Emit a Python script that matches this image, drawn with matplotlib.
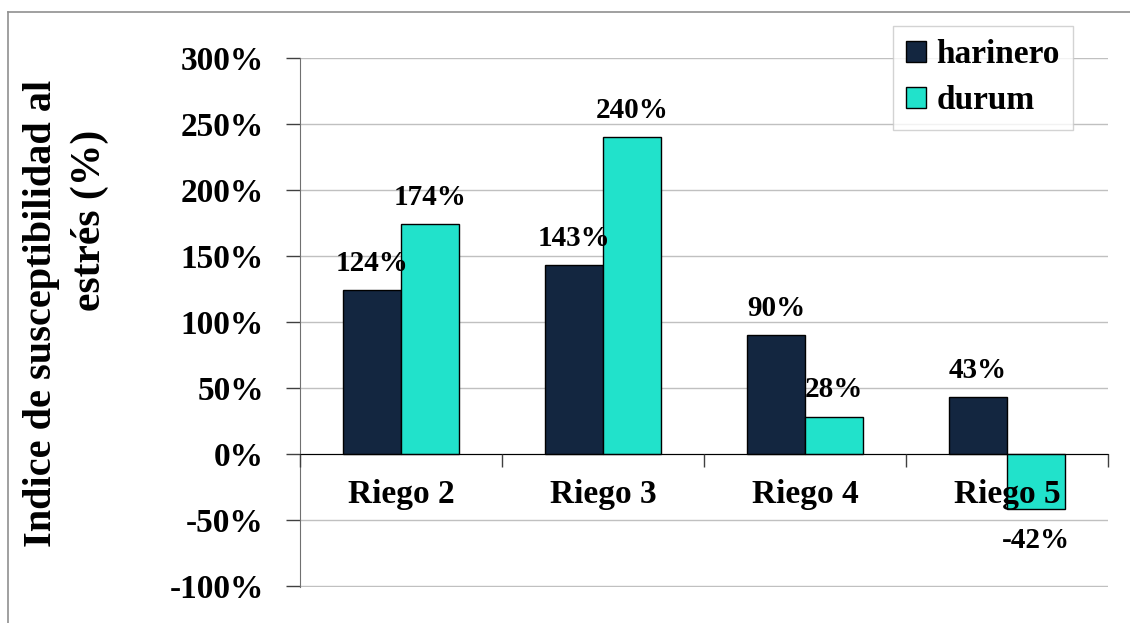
import matplotlib.pyplot as plt
import numpy as np
from matplotlib.lines import Line2D
from matplotlib.ticker import FuncFormatter

riegos = ["Riego 2", "Riego 3", "Riego 4", "Riego 5"]
harinero = [124, 143, 90, 43]
durum = [174, 240, 28, -42]
yticks = [-100, -50, 0, 50, 100, 150, 200, 250, 300]

navy = "#132640"
teal = "#21E2CB"
plt.rcParams["font.family"] = ["Liberation Serif", "DejaVu Serif"]
plt.rcParams["font.weight"] = "bold"

fig = plt.figure(figsize=(11.3, 6.23), dpi=100)
ax = fig.add_axes([0.2655, 0.0578, 0.715, 0.8491])

x = np.arange(len(riegos))
w = 0.287
b1 = ax.bar(x - w/2, harinero, w, color=navy, edgecolor="black", linewidth=1, label="harinero", zorder=2)
b2 = ax.bar(x + w/2, durum, w, color=teal, edgecolor="black", linewidth=1, label="durum", zorder=2)

# value labels above (or below) each bar
for bars, vals in ((b1, harinero), (b2, durum)):
    for r, v in zip(bars, vals):
        off = 27 if v >= 0 else -31
        ax.annotate(f"{v}%", (r.get_x() + r.get_width()/2, v), xytext=(0, off),
                    textcoords="offset pixels", ha="center", va="center",
                    fontsize=21, fontweight="bold", zorder=3)

ax.set_xlim(-0.5, len(riegos) - 0.5)
ax.set_ylim(-100.8, 300)
ax.set_yticks(yticks)
ax.yaxis.set_major_formatter(FuncFormatter(lambda v, p: f"{v:.0f}%"))
ax.tick_params(axis="y", labelsize=24, length=10, width=1, color="#404040", pad=16)
ax.grid(axis="y", color="#c0c0c0", linewidth=1)
ax.set_axisbelow(True)

ax.set_xticks(np.arange(len(riegos) + 1) - 0.5)
ax.set_xticklabels([])
ax.set_xticks(x, minor=True)
ax.set_xticklabels(riegos, minor=True)
ax.tick_params(axis="x", which="major", length=9, width=1, color="#404040")
ax.tick_params(axis="x", which="minor", length=0, labelsize=24, pad=18)
ax.xaxis.set_zorder(3)

ax.spines["bottom"].set_position(("data", 0))
ax.spines["bottom"].set_color("black")
ax.spines["bottom"].set_zorder(2.5)
ax.spines["left"].set_color("#707070")
ax.spines["top"].set_visible(False)
ax.spines["right"].set_visible(False)

leg = ax.legend(loc="upper left", bbox_to_anchor=(893/1130, 1 - 26/623),
                bbox_transform=fig.transFigure, fontsize=24, frameon=True,
                fancybox=False, handlelength=0.6, handleheight=0.6,
                handletextpad=0.3, labelspacing=0.45, borderpad=0.4,
                borderaxespad=0)
leg.get_frame().set_edgecolor("#c8c8c8")
leg.get_frame().set_linewidth(1)

fig.text(42/1130, 1 - 313/623, "Indice de susceptibilidad al",
         rotation=90, ha="center", va="center", fontsize=29, fontweight="bold")
fig.text(90/1130, 1 - 220/623, "estrés (%)",
         rotation=90, ha="center", va="center", fontsize=30, fontweight="bold")

# outer frame (top and left edges visible)
fig.add_artist(Line2D([8/1130, 1], [1 - 12/623, 1 - 12/623], transform=fig.transFigure, color="#909090", lw=1.2))
fig.add_artist(Line2D([8/1130, 8/1130], [0, 1 - 12/623], transform=fig.transFigure, color="#909090", lw=1.2))

fig.savefig("out.png", dpi=100)
